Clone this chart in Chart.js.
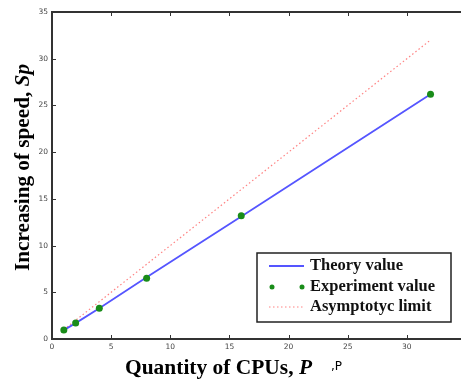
<!DOCTYPE html>
<html>
<head>
<meta charset="utf-8">
<script src="https://cdn.jsdelivr.net/npm/chart.js@4"></script>
<style>
  html, body { margin: 0; padding: 0; background: #fff; overflow: hidden; }
  #wrap { width: 461px; height: 380px; overflow: hidden; }
</style>
</head>
<body>
<div id="wrap"><canvas id="chart" width="480" height="380"></canvas></div>
<script>
const cpus = [1, 2, 4, 8, 16, 32];
const theory = [0.95, 1.7, 3.3, 6.6, 13.1, 26.2];
const experiment = [0.95, 1.7, 3.3, 6.5, 13.2, 26.2];
const limitX = [1, 32];
const limitY = [1, 32];
const xTicks = [0, 5, 10, 15, 20, 25, 30, 35];
const yTicks = [0, 5, 10, 15, 20, 25, 30, 35];

const toPoints = (xs, ys) => xs.map((x, i) => ({ x: x, y: ys[i] }));

const serif = "'Liberation Serif', 'Times New Roman', serif";

// draws mixed bold / bold italic text squeezed or stretched to a given width
const drawTitle = (ctx, plain, italic, x, y, width) => {
  ctx.font = "bold 20px " + serif;
  const w1 = ctx.measureText(plain).width;
  ctx.font = "bold italic 20px " + serif;
  const w2 = ctx.measureText(italic).width;
  const k = width / (w1 + w2);
  ctx.save();
  ctx.translate(x, y);
  ctx.scale(k, 1);
  ctx.font = "bold 20px " + serif;
  ctx.fillText(plain, 0, 0);
  ctx.font = "bold italic 20px " + serif;
  ctx.fillText(italic, w1, 0);
  ctx.restore();
};

const frame = {
  id: "frame",
  afterDraw: (chart) => {
    const ctx = chart.ctx;
    const a = chart.chartArea;
    const xs = chart.scales.x;
    const ys = chart.scales.y;
    ctx.save();
    // box
    ctx.strokeStyle = "#333";
    ctx.lineWidth = 2;
    ctx.strokeRect(a.left, a.top, a.right - a.left, a.bottom - a.top);
    // inside ticks
    ctx.lineWidth = 1;
    xTicks.forEach((v) => {
      const px = Math.round(xs.getPixelForValue(v)) + 0.5;
      ctx.beginPath();
      ctx.moveTo(px, a.bottom); ctx.lineTo(px, a.bottom - 4);
      ctx.moveTo(px, a.top); ctx.lineTo(px, a.top + 4);
      ctx.stroke();
    });
    yTicks.forEach((v) => {
      const py = Math.round(ys.getPixelForValue(v)) + 0.5;
      ctx.beginPath();
      ctx.moveTo(a.left, py); ctx.lineTo(a.left + 4, py);
      ctx.moveTo(a.right, py); ctx.lineTo(a.right - 4, py);
      ctx.stroke();
    });

    // x title
    ctx.fillStyle = "#000";
    ctx.textBaseline = "alphabetic";
    ctx.textAlign = "left";
    drawTitle(ctx, "Quantity of CPUs, ", "P", 125, 374, 187);
    ctx.font = "12px 'DejaVu Sans', sans-serif";
    ctx.fillText(",P", 331, 370);

    // y title
    ctx.save();
    ctx.translate(29, 168);
    ctx.rotate(-Math.PI / 2);
    drawTitle(ctx, "Increasing of speed, ", "Sp", -103, 0, 207);
    ctx.restore();

    // legend
    const lx = 257, ly = 253, lw = 194, lh = 69;
    ctx.fillStyle = "#fff";
    ctx.fillRect(lx, ly, lw, lh);
    ctx.strokeStyle = "#222";
    ctx.lineWidth = 1.5;
    ctx.strokeRect(lx, ly, lw, lh);
    ctx.font = "bold 16.5px " + serif;
    ctx.textBaseline = "middle";
    const rows = [ly + 13, ly + 34, ly + 54];
    const labels = chart.data.datasets.map((d) => d.label);
    // theory sample
    ctx.strokeStyle = chart.data.datasets[0].borderColor;
    ctx.lineWidth = 2;
    ctx.beginPath();
    ctx.moveTo(lx + 12, rows[0]); ctx.lineTo(lx + 47, rows[0]); ctx.stroke();
    // experiment sample
    ctx.fillStyle = chart.data.datasets[1].backgroundColor;
    [lx + 15, lx + 45].forEach((cx) => {
      ctx.beginPath(); ctx.arc(cx, rows[1], 2.5, 0, Math.PI * 2); ctx.fill();
    });
    // limit sample
    ctx.strokeStyle = chart.data.datasets[2].borderColor;
    ctx.lineWidth = 1;
    ctx.setLineDash([1.5, 2.5]);
    ctx.beginPath();
    ctx.moveTo(lx + 12, rows[2]); ctx.lineTo(lx + 47, rows[2]); ctx.stroke();
    ctx.setLineDash([]);
    ctx.fillStyle = "#111";
    labels.forEach((t, i) => ctx.fillText(t, lx + 53, rows[i]));
    ctx.restore();
  },
};

const tickFont = { size: 7.5, family: "'DejaVu Sans', sans-serif" };

const config = {
  type: "scatter",
  data: {
    datasets: [
      {
        label: "Theory value",
        data: toPoints(cpus, theory),
        showLine: true,
        borderColor: "rgb(85, 85, 255)",
        borderWidth: 1.8,
        pointRadius: 0,
        order: 1,
      },
      {
        label: "Experiment value",
        data: toPoints(cpus, experiment),
        showLine: false,
        pointRadius: 3.5,
        pointBorderWidth: 0,
        backgroundColor: "rgb(25, 140, 25)",
        borderColor: "rgb(25, 140, 25)",
        order: 0,
      },
      {
        label: "Asymptotyc limit",
        data: toPoints(limitX, limitY),
        showLine: true,
        borderColor: "rgb(255, 130, 130)",
        borderWidth: 1.2,
        borderDash: [1.5, 2.5],
        pointRadius: 0,
        order: 2,
      },
    ],
  },
  options: {
    responsive: false,
    animation: false,
    layout: {
      padding: { top: 12, right: 14, left: 0, bottom: 0 },
    },
    scales: {
      x: {
        type: "linear",
        min: 0,
        max: 35,
        afterBuildTicks: (s) => { s.ticks = xTicks.map((v) => ({ value: v })); },
        afterFit: (s) => { s.height = 41; },
        grid: { display: false, drawTicks: false, tickLength: 0 },
        border: { display: false },
        ticks: { padding: 4, color: "#444", font: tickFont, maxRotation: 0 },
      },
      y: {
        type: "linear",
        min: 0,
        max: 35,
        afterBuildTicks: (s) => { s.ticks = yTicks.map((v) => ({ value: v })); },
        afterFit: (s) => { s.width = 52; },
        grid: { display: false, drawTicks: false, tickLength: 0 },
        border: { display: false },
        ticks: { padding: 4, color: "#444", font: tickFont },
      },
    },
    plugins: {
      legend: { display: false },
      tooltip: { enabled: false },
    },
  },
  plugins: [frame],
};

new Chart(document.getElementById("chart"), config);
</script>
</body>
</html>
